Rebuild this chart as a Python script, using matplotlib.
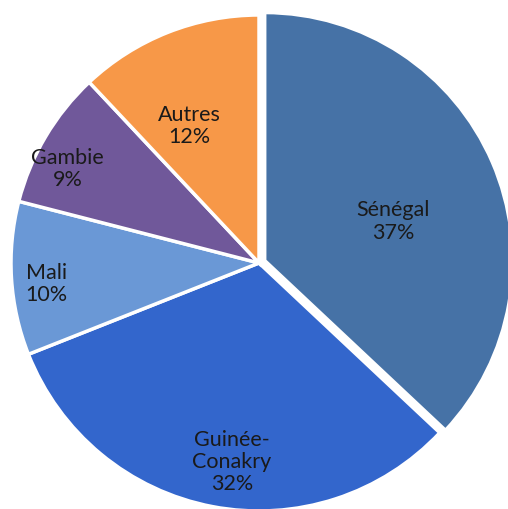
import matplotlib
matplotlib.use("Agg")
import matplotlib.pyplot as plt
import numpy as np

categories = ["Sénégal", "Guinée-\nConakry", "Mali", "Gambie", "Autres"]
values = [37, 32, 10, 9, 12]
colors = ["#4672A6", "#3366CC", "#6A98D6", "#70589A", "#F79848"]
explode = [0.025, 0, 0, 0, 0]
label_r = [0.54, 0.81, 0.86, 0.86, 0.62]
label_shift = [-6.5, 3, 2, 4.5, 5.5]

fig = plt.figure(figsize=(5.08, 5.09), dpi=100)
ax = fig.add_axes([0, 0, 1, 1])
wedges, _ = ax.pie(values, colors=colors, startangle=90, counterclock=False,
                   explode=explode, radius=1.0,
                   wedgeprops=dict(edgecolor="white", linewidth=2.5))
for w, cat, v, r, s in zip(wedges, categories, values, label_r, label_shift):
    mid = np.deg2rad((w.theta1 + w.theta2) / 2 + s)
    cx, cy = w.center
    ax.text(cx + r * np.cos(mid), cy + r * np.sin(mid), f"{cat}\n{v}%",
            ha="center", va="center", fontsize=15.5, family="Lato",
            color="#1a1a1a", linespacing=1.15)
ax.set_xlim(-259 / 248, (508 - 259) / 248)
ax.set_ylim(-246 / 248, (509 - 246) / 248)
ax.set_aspect("equal")
ax.axis("off")
fig.savefig("out.png", dpi=100)
